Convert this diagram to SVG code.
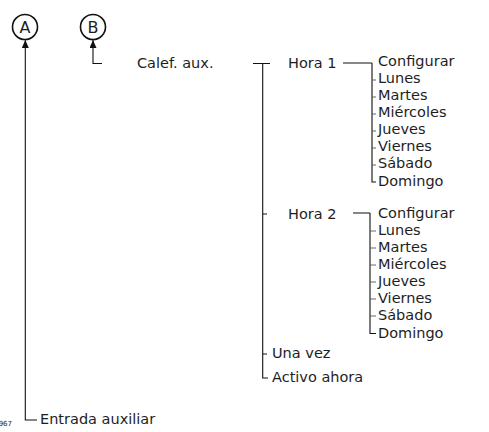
<svg xmlns="http://www.w3.org/2000/svg" width="489" height="432" viewBox="0 0 489 432">
<style>
text{font-family:"DejaVu Sans","Liberation Sans",sans-serif;font-size:14.5px;fill:#1e1e1e}
.c{fill:none;stroke:#111;stroke-width:1.6}
.l{fill:none;stroke:#111;stroke-width:1.1}
.t{fill:none;stroke:#555;stroke-width:0.9}
.sm{font-size:7px}
.big{font-size:16px}
</style>
<defs>
<marker id="ah" viewBox="0 0 8 7" refX="8" refY="3.5" markerWidth="8" markerHeight="7" markerUnits="userSpaceOnUse" orient="auto">
<path d="M0,0 L8,3.5 L0,7 Z" fill="#111"/>
</marker>
</defs>
<rect width="489" height="432" fill="#fff"/>
<g id="nodeA"><circle class="c" cx="25" cy="27" r="12.5"/><text class="big" x="25" y="33" text-anchor="middle">A</text></g>
<g id="nodeB"><circle class="c" cx="93" cy="27" r="12.5"/><text class="big" x="93" y="33" text-anchor="middle">B</text></g>
<g id="calef"><text x="137" y="68">Calef. aux.</text></g>
<g id="hora1"><text x="288" y="68">Hora 1</text></g>
<g id="hora2"><text x="288" y="219">Hora 2</text></g>
<g id="h1items">
<text x="378" y="66">Configurar</text>
<text x="378" y="83">Lunes</text>
<text x="378" y="100">Martes</text>
<text x="378" y="117">Miércoles</text>
<text x="378" y="134">Jueves</text>
<text x="378" y="151">Viernes</text>
<text x="378" y="168">Sábado</text>
<text x="378" y="185.5">Domingo</text>
</g>
<g id="h2items">
<text x="378" y="218">Configurar</text>
<text x="378" y="235">Lunes</text>
<text x="378" y="252">Martes</text>
<text x="378" y="269">Miércoles</text>
<text x="378" y="286">Jueves</text>
<text x="378" y="303">Viernes</text>
<text x="378" y="320">Sábado</text>
<text x="378" y="337.5">Domingo</text>
</g>
<g id="unavez"><text x="272" y="358">Una vez</text></g>
<g id="activo"><text x="272" y="382">Activo ahora</text></g>
<g id="entrada"><text x="40" y="424">Entrada auxiliar</text></g>
<g id="ref"><text class="sm" x="12" y="426" text-anchor="end">967</text></g>
<g id="connectors">
<path class="l" d="M37,420 H25.3 V40" marker-end="url(#ah)"/>
<path class="l" d="M102,63.5 H93 V40" marker-end="url(#ah)"/>
<path class="l" d="M253,63.5 H270 M262.7,63.5 V378 H268 M262.7,214 H267 M262.7,354 H267"/>
<path class="l" d="M343,63 H372 M372,63 V182 H376"/>
<path class="t" d="M372,80 H376 M372,97 H376 M372,114 H376 M372,131 H376 M372,148 H376 M372,165 H376"/>
<path class="l" d="M353,213 H370 M370,213 V333.5 H376"/>
<path class="t" d="M370,231 H376 M370,248 H376 M370,265 H376 M370,282 H376 M370,299 H376 M370,316 H376"/>
</g>
</svg>
